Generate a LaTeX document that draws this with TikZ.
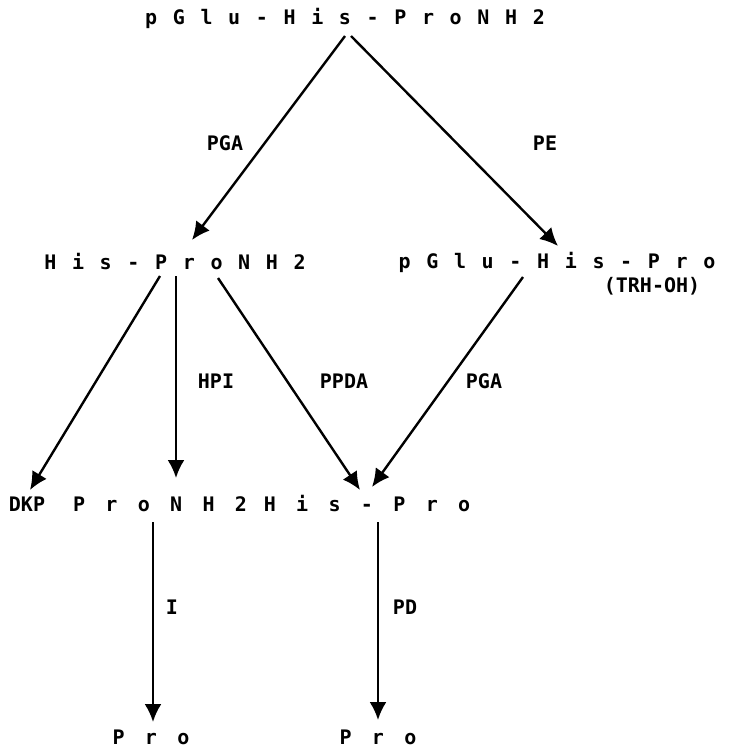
\documentclass[tikz,border=0pt]{standalone}
\usepackage{fontspec}
\setmonofont{DejaVu Sans Mono}
\newfontfamily\spfont[WordSpace=1.3]{DejaVu Sans Mono}
\usetikzlibrary{arrows.meta}
\tikzset{
  cmpd/.style={inner sep=0pt, anchor=base, font=\spfont\bfseries\fontsize{20}{24}\selectfont},
  enz/.style={inner sep=0pt, anchor=base, font=\ttfamily\bfseries\fontsize{20}{24}\selectfont},
  conn/.style={line width=2.4pt, -{Latex[length=18pt,width=17pt]}}
}
\begin{document}
\begin{tikzpicture}[x=1pt,y=-1pt]
\useasboundingbox (0,0) rectangle (728,749);
% compounds
\node[cmpd] (top) at (345,25) {p G l u - H i s - P r o N H 2};
\node[cmpd] (hpn) at (175,269) {H i s - P r o N H 2};
\node[cmpd] (trh) at (557,268) {p G l u - H i s - P r o};
\node[enz] (trhoh) at (652,292) {(TRH-OH)};
\node[enz] (dkp) at (27,511) {DKP};
\node[cmpd] (pn) at (160,511) {P r o N H 2};
\node[cmpd] (hp) at (367,511) {H i s - P r o};
\node[cmpd] (pro1) at (151,744) {P r o};
\node[cmpd] (pro2) at (378,744) {P r o};
% enzyme labels
\node[enz] (l1) at (225,150) {PGA};
\node[enz] (l2) at (545,150) {PE};
\node[enz] (l3) at (216,388) {HPI};
\node[enz] (l4) at (344,388) {PPDA};
\node[enz] (l5) at (484,388) {PGA};
\node[enz] (l6) at (172,614) {I};
\node[enz] (l7) at (405,614) {PD};
% connector ends
\coordinate (s1) at (345,36);
\coordinate (e1) at (192,240);
\coordinate (s2) at (351,36);
\coordinate (e2) at (558,246);
\coordinate (s3) at (160,276);
\coordinate (e3) at (30,490);
\coordinate (s4) at (176,276);
\coordinate (e4) at (176,478);
\coordinate (s5) at (218,278);
\coordinate (e5) at (360,490);
\coordinate (s6) at (523,277);
\coordinate (e6) at (372,487);
\coordinate (s7) at (153,522);
\coordinate (e7) at (153,722);
\coordinate (s8) at (378,522);
\coordinate (e8) at (378,720);
\draw[conn] (s1) -- (e1);
\draw[conn] (s2) -- (e2);
\draw[conn] (s3) -- (e3);
\draw[conn] (s4) -- (e4);
\draw[conn] (s5) -- (e5);
\draw[conn] (s6) -- (e6);
\draw[conn] (s7) -- (e7);
\draw[conn] (s8) -- (e8);
\end{tikzpicture}
\end{document}
